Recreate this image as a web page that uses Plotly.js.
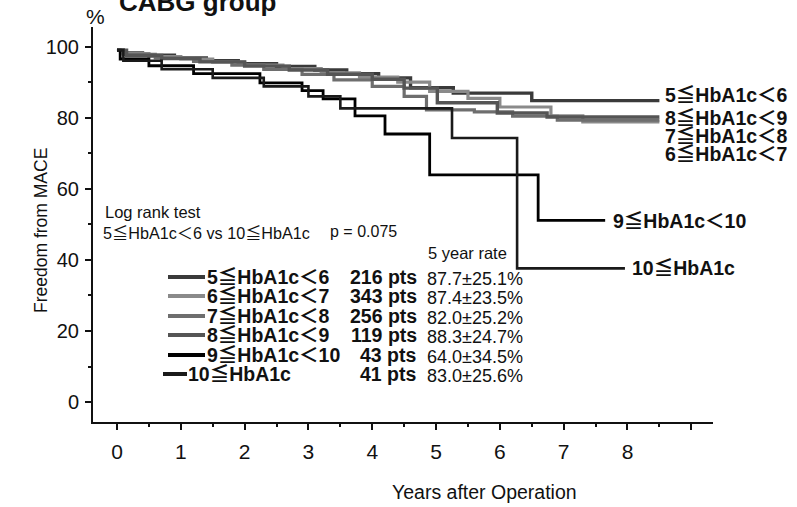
<!DOCTYPE html>
<html>
<head>
<meta charset="utf-8">
<script src="https://cdn.plot.ly/plotly-3.0.1.min.js"></script>
<style>html,body{margin:0;padding:0;background:#fff;}#chart{width:797px;height:507px;}</style>
</head>
<body>
<div id="chart"></div>
<script>
// ---- data ----
const groupNames = ['5≦HbA1c＜6', '6≦HbA1c＜7', '7≦HbA1c＜8', '8≦HbA1c＜9', '9≦HbA1c＜10', '10≦HbA1c'];
const groupPts = ['216 pts', '343 pts', '256 pts', '119 pts', '43 pts', '41 pts'];
const groupRates = ['87.7±25.1%', '87.4±23.5%', '82.0±25.2%', '88.3±24.7%', '64.0±34.5%', '83.0±25.6%'];

const t56 = [0, 0.1, 0.4, 0.9, 1.4, 1.9, 2.5, 3.1, 3.6, 4.1, 4.6, 5.27, 6.5, 8.5];
const s56 = [99, 98.2, 97.6, 96.8, 96, 95.2, 94.4, 93.4, 92.4, 91.2, 88.4, 86.9, 84.8, 84.8];

const t67 = [0, 0.1, 0.5, 1.0, 1.5, 2.0, 2.6, 3.2, 3.8, 4.4, 4.9, 5.5, 6.0, 6.8, 7.3, 8.5];
const s67 = [99, 98, 97.2, 96.5, 95.6, 94.8, 93.8, 92.6, 91.4, 90, 87.4, 85.4, 83, 80.5, 78.8, 78.8];

const t78 = [0, 0.1, 0.6, 1.2, 1.8, 2.3, 2.9, 3.4, 4.0, 4.5, 4.85, 5.6, 6.2, 6.9, 8.5];
const s78 = [99, 97.8, 96.8, 95.8, 94.8, 93.6, 92.2, 90.6, 88.8, 86, 82.2, 81.6, 80.4, 79.3, 79.3];

const t89 = [0, 0.15, 0.7, 1.3, 2.0, 2.7, 3.3, 4.0, 4.5, 5.02, 5.96, 6.74, 8.5];
const s89 = [99, 97.5, 96.6, 95.7, 94.5, 93.4, 92.2, 90.8, 88.3, 84.2, 81.3, 80.2, 80.2];

const t910 = [0, 0.05, 0.5, 1.2, 2.24, 2.9, 3.23, 3.73, 4.2, 4.9, 6.6, 7.65];
const s910 = [99, 96.5, 94.6, 92.4, 89.8, 87.6, 85.3, 80.5, 75.4, 63.9, 51.1, 51.1];

const t10 = [0, 0.1, 0.7, 1.5, 2.3, 3.0, 3.5, 5.25, 6.27, 7.96];
const s10 = [99, 96, 93.6, 91.2, 88.8, 86, 82.6, 74.3, 37.6, 37.6];

const xTickVals = [0, 1, 2, 3, 4, 5, 6, 7, 8, 9];
const xTickText = ['0', '1', '2', '3', '4', '5', '6', '7', '8', ''];
const xMinorVals = [0.5, 1.5, 2.5, 3.5, 4.5, 5.5, 6.5, 7.5, 8.5];
const yTickVals = [0, 20, 40, 60, 80, 100];
const yMinorVals = [10, 30, 50, 70, 90];

// ---- styling ----
const FONT = 'Liberation Sans, Arial, Noto Sans CJK JP, sans-serif';
const colors = ['#3a3a3a', '#8a8a8a', '#6e6e6e', '#555555', '#000000', '#1a1a1a'];
const widths = [3.4, 3.2, 3.2, 3.4, 2.8, 2.6];

const L = 93, R = 713, T = 27, B = 422;
const px = x => (x - L) / (R - L);
const py = y => (B - y) / (B - T);

const series = [[t56, s56], [t67, s67], [t78, s78], [t89, s89], [t910, s910], [t10, s10]];
const traces = series.map((d, i) => ({
  x: d[0], y: d[1], type: 'scatter', mode: 'lines',
  line: {shape: 'hv', color: colors[i], width: widths[i]},
  name: groupNames[i], hoverinfo: 'skip'
}));

const ann = [];
const shapes = [];
function txt(text, x, y, size, opts) {
  ann.push(Object.assign({
    text: text, x: px(x), y: py(y), xref: 'paper', yref: 'paper',
    showarrow: false, xanchor: 'left', yanchor: 'middle', borderpad: 0,
    font: {family: FONT, size: size, color: '#111'}
  }, opts || {}));
}

// title and axis titles
txt('<b>CABG group</b>', 118, 2, 26);
txt('%', 95, 16, 21, {xanchor: 'center'});
txt('Freedom from MACE', 41, 230, 17.5, {xanchor: 'center', textangle: -90});
txt('Years after Operation', 485, 492, 19.5, {xanchor: 'center'});

// log rank text
txt('Log rank test', 104, 212, 16.5);
txt('5≦HbA1c＜6 vs 10≦HbA1c', 102, 233, 16.2);
txt('p = 0.075', 329, 231, 16);
txt('5 year rate', 427, 253, 16.5);

// end labels
const endLabelX = [664, 664, 664, 664, 612, 631];
const endLabelY = [95, 154, 136, 118, 221, 268];
groupNames.forEach((n, i) => txt('<b>' + n + '</b>', endLabelX[i], endLabelY[i], 19.5));

// legend block
const rowY = [277, 296, 316, 335, 355, 374];
groupNames.forEach((n, i) => {
  const nameX = i === 5 ? 187 : 206;
  txt('<b>' + n + '</b>', nameX, rowY[i], 19.5);
  txt('<b>' + groupPts[i] + '</b>', 418, rowY[i], 19.5);
  ann[ann.length - 1].xanchor = 'right';
  txt(groupRates[i], 426, rowY[i] + 2, 18);
  shapes.push({type: 'line', xref: 'paper', yref: 'paper',
    x0: px(i === 5 ? 163 : 168), x1: px(i === 5 ? 187 : 205), y0: py(rowY[i]), y1: py(rowY[i]),
    line: {color: colors[i], width: 4}});
});

const axisCommon = {
  showline: true, linewidth: 2, linecolor: '#111', showgrid: false, zeroline: false,
  ticks: 'outside', ticklen: 6, tickwidth: 2, tickcolor: '#111', fixedrange: true
};

const layout = {
  width: 797, height: 507,
  margin: {l: L, r: 797 - R, t: T, b: 507 - B, pad: 0},
  paper_bgcolor: '#fff', plot_bgcolor: '#fff',
  showlegend: false,
  xaxis: Object.assign({}, axisCommon, {
    range: [-0.376, 9.34], tickmode: 'array', tickvals: xTickVals, ticktext: xTickText,
    tickfont: {family: FONT, size: 21, color: '#111'}, ticklabelstandoff: 4,
    minor: {tickmode: 'array', tickvals: xMinorVals, ticks: 'outside', ticklen: 3, tickwidth: 2, tickcolor: '#111'}
  }),
  yaxis: Object.assign({}, axisCommon, {
    range: [-5.6, 105.5], tickmode: 'array', tickvals: yTickVals,
    tickfont: {family: FONT, size: 20, color: '#111'}, ticklabelstandoff: 2,
    minor: {tickmode: 'array', tickvals: yMinorVals, ticks: 'outside', ticklen: 3, tickwidth: 2, tickcolor: '#111'}
  }),
  annotations: ann,
  shapes: shapes
};

Plotly.newPlot('chart', traces, layout, {displayModeBar: false, staticPlot: true});
</script>
</body>
</html>
